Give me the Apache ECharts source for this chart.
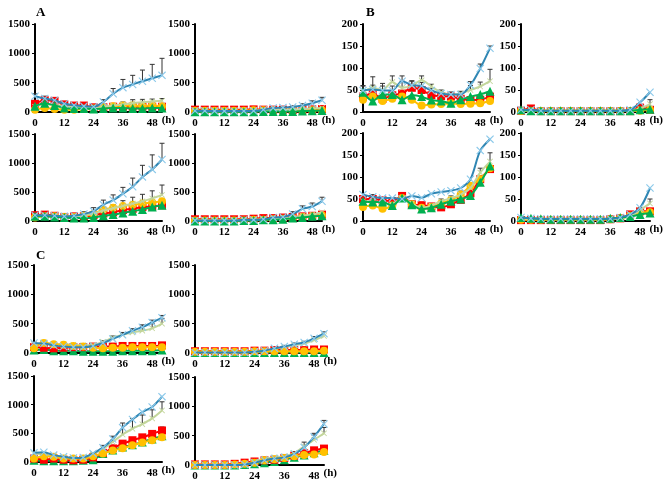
<!DOCTYPE html>
<html><head><meta charset="utf-8">
<script src="https://cdn.jsdelivr.net/npm/echarts@6/dist/echarts.min.js"></script>
<style>html,body{margin:0;padding:0;background:#fff}#c{width:666px;height:488px}</style>
</head><body><div id="c"></div>
<script>
const hours = [0,4,8,12,16,20,24,28,32,36,40,44,48,52];
const orderAB = ['red','yellow','lightgreen','green','blue'];
const orderC = ['green','red','lightgreen','yellow','blue'];

// Panel A1 (top-left of A)
const A1_blue = [270,230,200,140,115,100,90,170,310,415,470,525,575,625];
const A1_blue_err = [40,40,30,20,20,20,20,40,90,140,155,190,237,290];
const A1_lightgreen = [90,130,120,100,90,80,70,90,110,130,150,165,180,190];
const A1_lightgreen_err = [0,0,0,0,0,0,0,0,30,40,60,50,40,40];
const A1_red = [140,200,190,130,110,110,80,80,90,90,90,90,90,90];
const A1_yellow = [40,70,50,40,40,50,60,80,100,110,110,100,110,100];
const A1_green = [100,150,110,70,60,60,50,60,70,70,60,60,70,70];
// Panel A2
const A2_blue = [20,20,15,15,15,15,20,40,70,75,85,110,150,200];
const A2_blue_err = [5,5,5,5,5,5,10,15,20,20,20,30,40,50];
const A2_lightgreen = [10,10,10,10,10,10,20,30,30,40,40,50,60,70];
const A2_red = [40,40,40,40,40,40,45,40,40,40,35,40,45,50];
const A2_yellow = [20,20,20,20,20,20,30,30,30,30,30,30,30,30];
const A2_green = [5,5,5,5,5,5,5,10,10,10,10,15,20,25];
// Panel A3
const A3_blue = [100,100,90,80,90,120,170,280,360,470,590,760,890,1060];
const A3_blue_err = [20,20,20,20,30,40,60,80,90,110,150,200,250,280];
const A3_lightgreen = [90,90,80,70,80,100,130,180,220,260,300,340,390,450];
const A3_lightgreen_err = [0,0,0,0,0,0,20,40,60,90,110,120,130,170];
const A3_red = [100,110,90,70,80,80,100,130,150,190,210,240,250,270];
const A3_red_err = [0,0,0,0,0,0,20,30,40,50,60,70,60,60];
const A3_yellow = [60,80,80,70,70,90,120,200,230,260,280,300,320,340];
const A3_green = [80,80,70,60,50,50,60,90,110,140,170,200,240,270];
// Panel A4
const A4_blue = [10,10,10,10,10,20,20,30,60,70,120,210,250,340];
const A4_blue_err = [5,5,5,5,5,5,10,20,20,30,40,50,60,70];
const A4_lightgreen = [10,10,10,10,10,20,20,30,40,50,60,90,110,150];
const A4_red = [30,30,30,30,30,30,40,50,50,60,70,80,90,110];
const A4_yellow = [10,10,10,10,10,10,20,20,30,40,50,70,80,100];
const A4_green = [0,0,0,0,0,10,10,20,20,30,50,60,80,90];
// Panel B1
const B1_blue = [49,51,49,49,70,61,59,49,42,40,40,61,99,145];
const B1_blue_err = [10,10,10,10,12,10,8,5,5,5,5,8,10,5];
const B1_lightgreen = [45,55,50,68,55,60,72,58,45,40,42,50,58,70];
const B1_lightgreen_err = [15,25,15,14,15,10,10,5,5,5,5,10,10,27];
const B1_red = [35,42,30,38,42,55,50,38,36,35,30,27,28,35];
const B1_yellow = [28,35,25,30,35,28,15,17,18,20,18,19,20,25];
const B1_green = [45,25,40,40,28,38,35,27,25,20,28,35,40,47];
// Panel B2
const B2_blue = [5,5,3,3,3,3,3,3,3,3,3,5,22,45];
const B2_lightgreen = [3,3,3,3,3,3,3,3,3,3,3,3,8,18];
const B2_lightgreen_err = [0,0,0,0,0,0,0,0,0,0,0,0,5,10];
const B2_red = [3,8,2,2,2,2,2,2,2,2,2,2,10,5];
const B2_yellow = [2,2,2,2,2,2,2,2,2,2,2,2,3,5];
const B2_green = [5,3,3,3,3,3,3,3,3,3,3,3,5,6];
// Panel B3
const B3_blue = [60,55,52,52,50,57,53,62,66,69,75,95,160,186];
const B3_lightgreen = [45,45,40,38,50,40,30,35,45,52,60,75,110,135];
const B3_lightgreen_err = [10,15,10,10,8,5,5,5,5,5,8,10,10,20];
const B3_red = [50,50,47,45,57,38,36,33,31,38,48,63,95,118];
const B3_yellow = [32,35,28,35,52,38,30,32,40,48,60,80,95,120];
const B3_green = [45,43,43,35,52,37,27,30,38,45,50,58,88,125];
// Panel B4
const B4_blue = [8,6,5,5,5,5,5,5,5,5,8,15,30,75];
const B4_lightgreen = [5,5,4,4,4,4,4,4,4,4,6,10,25,40];
const B4_lightgreen_err = [0,0,0,0,0,0,0,0,0,0,0,0,5,10];
const B4_red = [2,2,2,2,2,2,2,2,2,4,6,15,22,22];
const B4_yellow = [3,3,3,3,3,3,3,3,3,4,6,12,20,20];
const B4_green = [8,6,5,4,4,4,4,4,4,6,8,10,15,18];
// Panel C1
const C1_blue = [170,160,130,110,100,100,120,170,240,310,380,440,520,600];
const C1_blue_err = [20,20,20,20,20,20,20,20,30,30,30,40,40,40];
const C1_lightgreen = [120,180,150,150,140,130,140,190,260,310,350,380,420,500];
const C1_lightgreen_err = [0,0,0,0,0,0,0,20,30,40,60,80,80,90];
const C1_red = [100,90,80,90,100,100,110,110,110,120,120,120,120,130];
const C1_yellow = [80,170,150,140,120,110,90,80,90,90,100,100,100,100];
const C1_green = [50,60,40,40,40,30,30,30,30,40,40,40,40,50];
// Panel C2
const C2_blue = [10,10,10,10,10,10,20,40,80,110,150,180,250,330];
const C2_blue_err = [5,5,5,5,5,5,5,10,10,20,20,20,30,30];
const C2_lightgreen = [10,10,10,10,10,10,20,40,70,100,130,160,220,290];
const C2_red = [30,30,30,30,30,30,40,40,50,50,50,50,60,60];
const C2_yellow = [20,20,20,20,20,20,30,30,30,30,30,30,30,40];
const C2_green = [10,10,10,10,10,10,10,10,10,10,10,10,10,10];
// Panel C3
const C3_blue = [160,170,120,90,70,80,150,250,400,600,740,870,960,1140];
const C3_lightgreen = [150,130,110,80,70,80,140,230,350,480,580,660,760,900];
const C3_lightgreen_err = [0,0,0,0,0,0,20,60,100,200,180,160,150,150];
const C3_red = [60,40,60,40,30,40,80,160,240,320,380,430,490,550];
const C3_red_err = [0,0,0,0,0,0,0,0,0,0,0,30,40,60];
const C3_yellow = [60,100,90,60,60,60,100,150,200,240,290,340,380,430];
const C3_green = [30,20,20,20,20,30,40,150,210,260,300,350,400,460];
// Panel C4
const C4_blue = [0,0,0,0,0,10,40,80,110,130,190,300,480,700];
const C4_blue_err = [0,0,0,0,0,0,10,20,30,30,40,90,60,60];
const C4_lightgreen = [0,0,0,0,0,10,60,110,130,150,200,320,430,540];
const C4_lightgreen_err = [0,0,0,0,0,0,0,0,0,0,0,0,80,100];
const C4_red = [10,10,10,10,20,40,60,80,90,120,160,200,250,280];
const C4_yellow = [0,0,0,0,10,20,40,80,100,120,150,170,180,220];
const C4_green = [0,0,0,0,0,10,20,40,60,90,130,170,210,250];

const panelData = {
  A1:{blue:A1_blue,blue_err:A1_blue_err,lightgreen:A1_lightgreen,lightgreen_err:A1_lightgreen_err,red:A1_red,yellow:A1_yellow,green:A1_green},
  A2:{blue:A2_blue,blue_err:A2_blue_err,lightgreen:A2_lightgreen,red:A2_red,yellow:A2_yellow,green:A2_green},
  A3:{blue:A3_blue,blue_err:A3_blue_err,lightgreen:A3_lightgreen,lightgreen_err:A3_lightgreen_err,red:A3_red,red_err:A3_red_err,yellow:A3_yellow,green:A3_green},
  A4:{blue:A4_blue,blue_err:A4_blue_err,lightgreen:A4_lightgreen,red:A4_red,yellow:A4_yellow,green:A4_green},
  B1:{blue:B1_blue,blue_err:B1_blue_err,lightgreen:B1_lightgreen,lightgreen_err:B1_lightgreen_err,red:B1_red,yellow:B1_yellow,green:B1_green},
  B2:{blue:B2_blue,lightgreen:B2_lightgreen,lightgreen_err:B2_lightgreen_err,red:B2_red,yellow:B2_yellow,green:B2_green},
  B3:{blue:B3_blue,lightgreen:B3_lightgreen,lightgreen_err:B3_lightgreen_err,red:B3_red,yellow:B3_yellow,green:B3_green},
  B4:{blue:B4_blue,lightgreen:B4_lightgreen,lightgreen_err:B4_lightgreen_err,red:B4_red,yellow:B4_yellow,green:B4_green},
  C1:{blue:C1_blue,blue_err:C1_blue_err,lightgreen:C1_lightgreen,lightgreen_err:C1_lightgreen_err,red:C1_red,yellow:C1_yellow,green:C1_green},
  C2:{blue:C2_blue,blue_err:C2_blue_err,lightgreen:C2_lightgreen,red:C2_red,yellow:C2_yellow,green:C2_green},
  C3:{blue:C3_blue,lightgreen:C3_lightgreen,lightgreen_err:C3_lightgreen_err,red:C3_red,red_err:C3_red_err,yellow:C3_yellow,green:C3_green},
  C4:{blue:C4_blue,blue_err:C4_blue_err,lightgreen:C4_lightgreen,lightgreen_err:C4_lightgreen_err,red:C4_red,yellow:C4_yellow,green:C4_green}
};

const panels = [
  {id:'A1', left:35,  top:24,  width:127, height:88, max:1500, step:500},
  {id:'A2', left:195, top:24,  width:127, height:88, max:1500, step:500},
  {id:'A3', left:35,  top:134, width:127, height:87, max:1500, step:500},
  {id:'A4', left:195, top:134, width:127, height:87, max:1500, step:500},
  {id:'B1', left:363, top:24,  width:127, height:88, max:200, step:50},
  {id:'B2', left:521, top:24,  width:129, height:88, max:200, step:50},
  {id:'B3', left:363, top:133, width:127, height:88, max:200, step:50},
  {id:'B4', left:521, top:133, width:129, height:88, max:200, step:50},
  {id:'C1', left:34,  top:265, width:128, height:88, max:1500, step:500},
  {id:'C2', left:195, top:265, width:129, height:88, max:1500, step:500},
  {id:'C3', left:34,  top:376, width:128, height:86, max:1500, step:500},
  {id:'C4', left:195, top:377, width:129, height:88, max:1500, step:500}
];

const XPATH = 'path://M1,0 L5,4 L9,0 L10,1 L6,5 L10,9 L9,10 L5,6 L1,10 L0,9 L4,5 L0,1 Z';
const style = {
  red:{line:'#ff0000', mark:'#ff0000', symbol:'rect', size:8},
  yellow:{line:'#ffc000', mark:'#ffc000', symbol:'circle', size:8},
  lightgreen:{line:'#c3d69b', mark:'#c3d69b', symbol:XPATH, size:6},
  green:{line:'#00b050', mark:'#00b050', symbol:'triangle', size:9},
  blue:{line:'#2f86b3', mark:'#8cc9ea', symbol:XPATH, size:8}
};
const font = 'Liberation Serif';

const grids=[], xAxes=[], yAxes=[], series=[];
panels.forEach((p,i)=>{
  const order = p.id[0]==='C' ? orderC : orderAB;
  grids.push({left:p.left, top:p.top, width:p.width, height:p.height});
  xAxes.push({type:'value', gridIndex:i, min:0, max:52, interval:12,
    axisLine:{show:true, lineStyle:{color:'#000', width:2}},
    axisTick:{show:false}, splitLine:{show:false},
    axisLabel:{color:'#000', fontFamily:font, fontWeight:'bold', fontSize:11, margin:6,
      showMaxLabel:false, formatter:v=> v===52?'':String(v)},
    name:'(h)', nameLocation:'end', nameGap:-6,
    nameTextStyle:{color:'#000', fontFamily:font, fontWeight:'bold', fontSize:11, verticalAlign:'top', padding:[3,0,0,0]}
  });
  yAxes.push({type:'value', gridIndex:i, min:0, max:p.max, interval:p.step,
    axisLine:{show:true, lineStyle:{color:'#000', width:2}},
    axisTick:{show:true, length:3, lineStyle:{color:'#000', width:1}}, splitLine:{show:false},
    axisLabel:{color:'#000', fontFamily:font, fontWeight:'bold', fontSize:11, margin:5, formatter:v=>String(v)}
  });
  const d = panelData[p.id];
  order.forEach(name=>{
    const err = d[name+'_err'];
    if(err){
      series.push({type:'custom', xAxisIndex:i, yAxisIndex:i, z:1, silent:true,
        data: hours.map((h,k)=>[h, d[name][k], err[k]]),
        renderItem:(params, api)=>{
          const x=api.value(0), y=api.value(1), e=api.value(2);
          if(!e) return null;
          const p0=api.coord([x,y]), p1=api.coord([x,y+e]);
          return {type:'group', children:[
            {type:'line', shape:{x1:p0[0],y1:p0[1],x2:p1[0],y2:p1[1]}, style:{stroke:'#333', lineWidth:1}},
            {type:'line', shape:{x1:p1[0]-2.5,y1:p1[1],x2:p1[0]+2.5,y2:p1[1]}, style:{stroke:'#333', lineWidth:1}}
          ]};
        }});
    }
  });
  order.forEach((name,j)=>{
    const s = style[name];
    series.push({type:'line', name:name, xAxisIndex:i, yAxisIndex:i, z:2+j,
      data: hours.map((h,k)=>[h, d[name][k]]),
      smooth:0.3, symbol:s.symbol, symbolSize:s.size, showSymbol:true,
      lineStyle:{color:s.line, width:2}, itemStyle:{color:s.mark, borderWidth:0},
      animation:false});
  });
});

const chart = echarts.init(document.getElementById('c'), null, {renderer:'canvas'});
chart.setOption({
  animation:false,
  backgroundColor:'#fff',
  title:[
    {text:'A', left:31, top:1, textStyle:{fontFamily:font, fontWeight:'bold', fontSize:13, color:'#000'}},
    {text:'B', left:361, top:1, textStyle:{fontFamily:font, fontWeight:'bold', fontSize:13, color:'#000'}},
    {text:'C', left:31, top:244, textStyle:{fontFamily:font, fontWeight:'bold', fontSize:13, color:'#000'}}
  ],
  grid:grids, xAxis:xAxes, yAxis:yAxes, series:series
});
</script></body></html>
